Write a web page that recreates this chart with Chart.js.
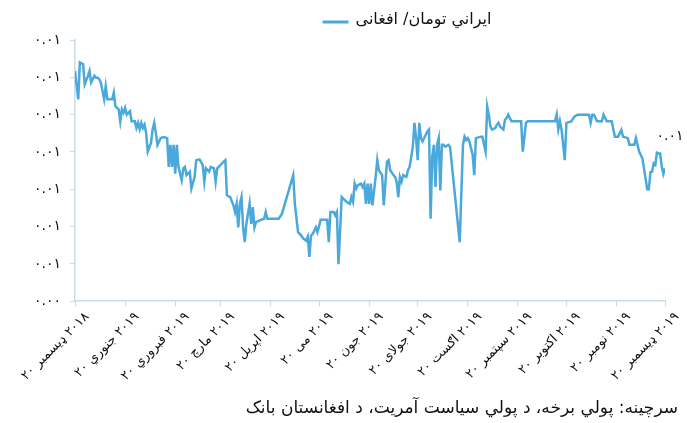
<!DOCTYPE html>
<html>
<head>
<meta charset="utf-8">
<script src="https://cdn.jsdelivr.net/npm/chart.js@4.4.1/dist/chart.umd.min.js"></script>
<style>
  html, body { margin: 0; padding: 0; background: #fff; }
  #wrap { width: 687px; height: 423px; position: relative; }
</style>
</head>
<body>
<div id="wrap"><canvas id="chart"></canvas></div>
<script>
const seriesName = 'ايراني تومان/ افغانى';
const sourceNote = 'سرچينه: پولي برخه، د پولي سياست آمريت، د افغانستان بانک';
const lastValueLabel = '٠.٠١';

// x axis: days since 20 Dec 2018, one tick on the 20th of each month
// (year first so the day number ends up at the lower-left end, as in the picture)
const tickDays = [0, 31, 62, 90, 121, 151, 182, 212, 243, 274, 304, 335, 365];
const xTickLabels = [
  '٢٠١٨ ډيسمبر ٢٠', '٢٠١٩ جنوري ٢٠', '٢٠١٩ فبروري ٢٠', '٢٠١٩ مارچ ٢٠',
  '٢٠١٩ اپريل ٢٠', '٢٠١٩ مى ٢٠', '٢٠١٩ جون ٢٠', '٢٠١٩ جولای ٢٠',
  '٢٠١٩ اګست ٢٠', '٢٠١٩ سپتمبر ٢٠', '٢٠١٩ اکتوبر ٢٠', '٢٠١٩ نومبر ٢٠',
  '٢٠١٩ ډيسمبر ٢٠'
];

// y axis
const yTickValues = [0.004, 0.005, 0.006, 0.007, 0.008, 0.009, 0.010, 0.011];
const yTickLabels = ['٠.٠٠', '٠.٠١', '٠.٠١', '٠.٠١', '٠.٠١', '٠.٠١', '٠.٠١', '٠.٠١'];

// series
const days = [
  0, 2, 3, 5, 6, 8, 9, 10, 12, 13, 14, 15, 16, 18, 19, 20, 21, 23, 24, 25,
  26, 27, 28, 29, 30, 31, 32, 34, 35, 37, 38, 39, 40, 41, 42, 43, 44, 45, 47, 48,
  49, 50, 51, 53, 55, 57, 58, 59, 60, 61, 62, 63, 64, 66, 67, 68, 69, 71, 72, 74,
  75, 77, 79, 80, 81, 83, 84, 86, 87, 88, 90, 92, 93, 94, 96, 98, 99, 100, 101, 102,
  103, 104, 105, 106, 108, 109, 110, 111, 112, 114, 115, 117, 118, 119, 122, 126, 128, 135, 136, 138,
  140, 141, 143, 144, 145, 146, 147, 148, 149, 150, 152, 155, 156, 157, 158, 160, 161, 162, 163, 165,
  166, 168, 170, 171, 172, 173, 174, 175, 177, 178, 179, 180, 181, 182, 183, 184, 186, 187, 188, 190,
  191, 193, 194, 195, 197, 198, 199, 200, 201, 202, 203, 205, 206, 207, 209, 210, 211, 212, 213, 214,
  215, 217, 218, 219, 220, 221, 222, 223, 224, 225, 226, 227, 228, 229, 231, 232, 238, 240, 241, 242,
  243, 244, 246, 247, 248, 251, 252, 254, 255, 256, 257, 258, 260, 261, 262, 263, 265, 266, 267, 268,
  270, 276, 277, 279, 280, 297, 298, 299, 300, 301, 303, 304, 307, 309, 311, 318, 319, 320, 321, 323,
  326, 327, 329, 332, 334, 336, 338, 339, 342, 343, 346, 347, 349, 351, 352, 354, 355, 356, 357, 358,
  359, 360, 361, 362, 363, 364, 365
];
const rates = [
  0.01017, 0.00941, 0.01040, 0.01035, 0.00981, 0.01004, 0.01017, 0.00986, 0.01004, 0.00999,
  0.00999, 0.00995, 0.00986, 0.00941, 0.00976, 0.00941, 0.00941, 0.00941, 0.00959, 0.00922,
  0.00918, 0.00914, 0.00882, 0.00914, 0.00905, 0.00918, 0.00900, 0.00909, 0.00882, 0.00882,
  0.00864, 0.00878, 0.00861, 0.00878, 0.00864, 0.00873, 0.00851, 0.00801, 0.00824, 0.00860,
  0.00878, 0.00851, 0.00819, 0.00837, 0.00840, 0.00837, 0.00760, 0.00819, 0.00760, 0.00819,
  0.00742, 0.00819, 0.00760, 0.00724, 0.00756, 0.00760, 0.00738, 0.00747, 0.00702, 0.00733,
  0.00778, 0.00780, 0.00765, 0.00720, 0.00756, 0.00747, 0.00760, 0.00756, 0.00720, 0.00756,
  0.00765, 0.00774, 0.00778, 0.00684, 0.00679, 0.00657, 0.00639, 0.00661, 0.00598, 0.00661,
  0.00679, 0.00598, 0.00558, 0.00607, 0.00661, 0.00607, 0.00652, 0.00598, 0.00612, 0.00616,
  0.00618, 0.00621, 0.00639, 0.00621, 0.00621, 0.00621, 0.00634, 0.00738, 0.00661, 0.00585,
  0.00576, 0.00569, 0.00562, 0.00573, 0.00519, 0.00576, 0.00580, 0.00589, 0.00598, 0.00585,
  0.00618, 0.00618, 0.00618, 0.00558, 0.00639, 0.00639, 0.00630, 0.00639, 0.00499, 0.00679,
  0.00675, 0.00666, 0.00661, 0.00679, 0.00666, 0.00715, 0.00702, 0.00711, 0.00715, 0.00706,
  0.00715, 0.00661, 0.00715, 0.00661, 0.00715, 0.00657, 0.00733, 0.00778, 0.00751, 0.00738,
  0.00657, 0.00774, 0.00778, 0.00751, 0.00738, 0.00733, 0.00720, 0.00679, 0.00733, 0.00720,
  0.00738, 0.00733, 0.00751, 0.00760, 0.00814, 0.00878, 0.00837, 0.00778, 0.00878, 0.00837,
  0.00828, 0.00846, 0.00855, 0.00860, 0.00621, 0.00787, 0.00819, 0.00706, 0.00819, 0.00837,
  0.00697, 0.00819, 0.00819, 0.00814, 0.00819, 0.00814, 0.00558, 0.00819, 0.00841, 0.00832,
  0.00837, 0.00828, 0.00792, 0.00738, 0.00837, 0.00841, 0.00841, 0.00801, 0.00922, 0.00900,
  0.00868, 0.00860, 0.00864, 0.00873, 0.00878, 0.00868, 0.00860, 0.00886, 0.00891, 0.00900,
  0.00882, 0.00882, 0.00801, 0.00878, 0.00882, 0.00882, 0.00900, 0.00860, 0.00882, 0.00860,
  0.00778, 0.00878, 0.00882, 0.00895, 0.00900, 0.00900, 0.00878, 0.00900, 0.00900, 0.00882,
  0.00882, 0.00900, 0.00882, 0.00882, 0.00841, 0.00841, 0.00859, 0.00841, 0.00837, 0.00819,
  0.00819, 0.00837, 0.00801, 0.00783, 0.00756, 0.00700, 0.00700, 0.00746, 0.00747, 0.00769,
  0.00765, 0.00798, 0.00796, 0.00796, 0.00760, 0.00741, 0.00756
];

const lineColor = '#4aa8da';
const axisColor = '#c9dbe6';
const fontFamily = '"DejaVu Sans", sans-serif';

// legend key on top, source note at the bottom, small label by the last point
const notesPlugin = {
  id: 'notesPlugin',
  afterDraw(chart) {
    const { ctx, chartArea } = chart;
    ctx.save();
    ctx.font = '16px ' + fontFamily;
    const textW = ctx.measureText(seriesName).width;
    const swatch = 26, gap = 7;
    const total = swatch + gap + textW;
    const cx = (chartArea.left + chartArea.right) / 2 + 37;
    const x0 = cx - total / 2;
    const y = 22;
    ctx.strokeStyle = lineColor;
    ctx.lineWidth = 3;
    ctx.beginPath();
    ctx.moveTo(x0, y);
    ctx.lineTo(x0 + swatch, y);
    ctx.stroke();
    ctx.fillStyle = '#111';
    ctx.textBaseline = 'middle';
    ctx.textAlign = 'left';
    ctx.fillText(seriesName, x0 + swatch + gap, y - 2);

    ctx.font = '17px ' + fontFamily;
    ctx.textAlign = 'right';
    ctx.fillText(sourceNote, chart.width - 9, chart.height - 14);

    const meta = chart.getDatasetMeta(0);
    const last = meta.data[meta.data.length - 1];
    ctx.font = '14px ' + fontFamily;
    ctx.textAlign = 'center';
    ctx.fillText(lastValueLabel, last.x + 5, last.y - 32);
    ctx.restore();
  }
};

new Chart(document.getElementById('chart'), {
  type: 'line',
  data: {
    datasets: [{
      label: seriesName,
      data: days.map((d, i) => ({ x: d, y: rates[i] })),
      borderColor: lineColor,
      backgroundColor: lineColor,
      borderWidth: 2.5,
      pointRadius: 0,
      tension: 0
    }]
  },
  options: {
    responsive: true,
    maintainAspectRatio: false,
    animation: false,
    layout: { padding: { top: 40, right: 22, left: 25, bottom: 36 } },
    plugins: {
      legend: { display: false },
      tooltip: { enabled: false }
    },
    scales: {
      x: {
        type: 'linear',
        min: 0,
        max: 365,
        afterBuildTicks: axis => { axis.ticks = tickDays.map(v => ({ value: v })); },
        ticks: {
          minRotation: 45,
          maxRotation: 45,
          autoSkip: false,
          labelOffset: 12,
          color: '#111',
          font: { family: fontFamily, size: 13 },
          callback: (v, i) => xTickLabels[i]
        },
        grid: { drawOnChartArea: false, color: axisColor, tickLength: 5 },
        border: { color: axisColor, width: 1.5 }
      },
      y: {
        min: 0.004,
        max: 0.011,
        afterBuildTicks: axis => { axis.ticks = yTickValues.map(v => ({ value: v })); },
        ticks: {
          color: '#111',
          padding: 9,
          font: { family: fontFamily, size: 14 },
          callback: (v, i) => yTickLabels[i]
        },
        grid: { drawOnChartArea: false, color: axisColor, tickLength: 5 },
        border: { color: axisColor, width: 1.5 }
      }
    }
  },
  plugins: [notesPlugin]
});
</script>
</body>
</html>
